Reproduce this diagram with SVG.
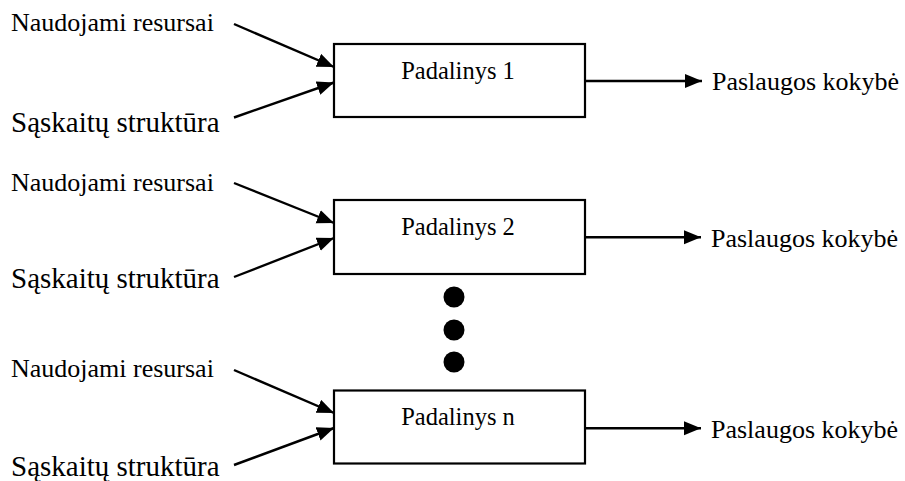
<svg xmlns="http://www.w3.org/2000/svg" width="905" height="481" viewBox="0 0 905 481">
  <style>
    .box { fill: #ffffff; stroke: #000000; stroke-width: 2.2; }
    .link { fill: none; stroke: #000000; stroke-width: 2.4; marker-end: url(#arrow); }
    text { font-family: 'Liberation Serif', serif; fill: #000000; }
    .in1 { font-size: 26px; }
    .in2 { font-size: 29px; }
    .unit { font-size: 24.5px; text-anchor: middle; }
    .out { font-size: 26px; }
    .dot { fill: #000000; }
  </style>
  <defs>
    <marker id="arrow" markerUnits="userSpaceOnUse" markerWidth="19" markerHeight="15" refX="17" refY="7" orient="auto">
      <path d="M0,0 L17,7 L0,14 Z" fill="#000000"/>
    </marker>
  </defs>
  <rect width="905" height="481" fill="#ffffff"/>

  <!-- connectors -->
  <g id="connectors">
    <line class="link" x1="234" y1="24" x2="334" y2="67"/>
    <line class="link" x1="234" y1="117.5" x2="334" y2="82.5"/>
    <line class="link" x1="585" y1="81" x2="702" y2="81"/>

    <line class="link" x1="234" y1="183" x2="334" y2="223"/>
    <line class="link" x1="234" y1="277" x2="334" y2="238"/>
    <line class="link" x1="585" y1="237.3" x2="701" y2="237.3"/>

    <line class="link" x1="234" y1="370" x2="334" y2="413"/>
    <line class="link" x1="234" y1="465" x2="334" y2="428"/>
    <line class="link" x1="585" y1="428.3" x2="701" y2="428.3"/>
  </g>

  <!-- unit 1 -->
  <g id="unit1">
    <rect class="box" x="334" y="44" width="251" height="73"/>
    <text class="unit" x="458" y="78.5">Padalinys 1</text>
  </g>
  <g id="inputs1">
    <text class="in1" x="11" y="31">Naudojami resursai</text>
    <text class="in2" x="11" y="131.5">Sąskaitų struktūra</text>
  </g>
  <g id="output1">
    <text class="out" x="712" y="90">Paslaugos kokybė</text>
  </g>

  <!-- unit 2 -->
  <g id="unit2">
    <rect class="box" x="334" y="200" width="251" height="74"/>
    <text class="unit" x="458" y="234.5">Padalinys 2</text>
  </g>
  <g id="inputs2">
    <text class="in1" x="11" y="190.7">Naudojami resursai</text>
    <text class="in2" x="11" y="287.7">Sąskaitų struktūra</text>
  </g>
  <g id="output2">
    <text class="out" x="711" y="247">Paslaugos kokybė</text>
  </g>

  <!-- ellipsis between units -->
  <g id="ellipsis">
    <circle class="dot" cx="454" cy="297" r="10.5"/>
    <circle class="dot" cx="454" cy="330" r="10.5"/>
    <circle class="dot" cx="454" cy="362" r="10.5"/>
  </g>

  <!-- unit n -->
  <g id="unitN">
    <rect class="box" x="334" y="390.5" width="251" height="73"/>
    <text class="unit" x="458" y="425">Padalinys n</text>
  </g>
  <g id="inputsN">
    <text class="in1" x="11" y="376.5">Naudojami resursai</text>
    <text class="in2" x="11" y="476">Sąskaitų struktūra</text>
  </g>
  <g id="outputN">
    <text class="out" x="711" y="438">Paslaugos kokybė</text>
  </g>
</svg>
